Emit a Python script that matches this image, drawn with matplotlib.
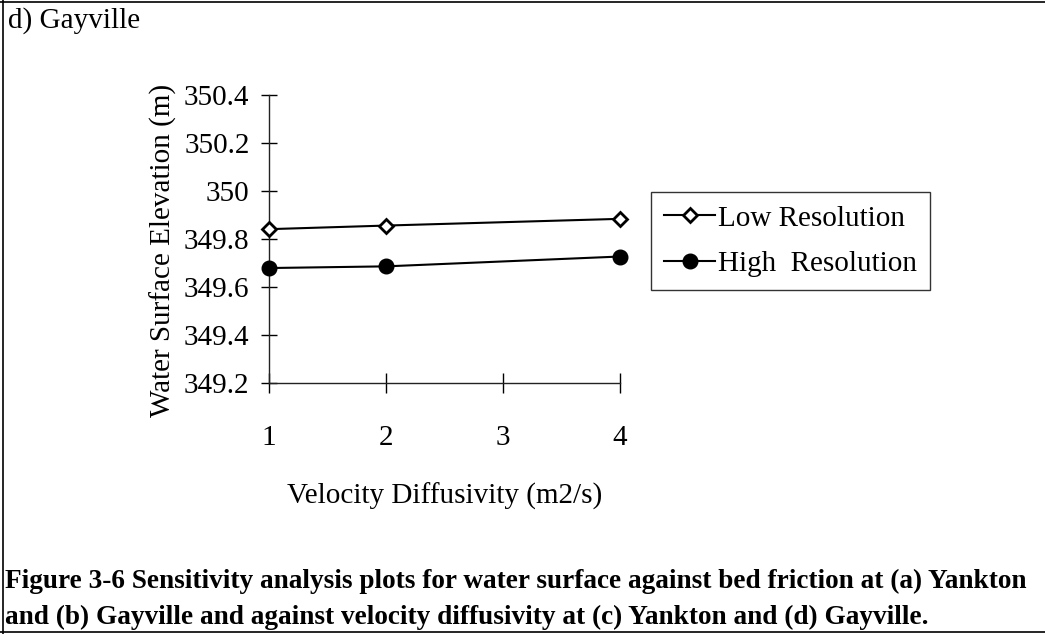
import matplotlib
matplotlib.use("Agg")
import matplotlib.pyplot as plt
from matplotlib.lines import Line2D

# Data
x_low = [1, 2, 4]
low_resolution = [349.841, 349.856, 349.884]
x_high = [1, 2, 4]
high_resolution = [349.679, 349.686, 349.727]
x_ticks = [1, 2, 3, 4]
y_ticks = [349.2, 349.4, 349.6, 349.8, 350.0, 350.2, 350.4]
y_tick_labels = ["349.2", "349.4", "349.6", "349.8", "350", "350.2", "350.4"]

W, H = 1045, 634
FS = 21
plt.rcParams['font.family'] = ['Liberation Serif', 'DejaVu Serif']

fig = plt.figure(figsize=(W / 100, H / 100), dpi=100)
fig.patch.set_facecolor('white')

# Axes placement (pixel coords)
left, right, top, bottom = 269, 620, 95, 383
ax = fig.add_axes([left / W, 1 - bottom / H, (right - left) / W, (bottom - top) / H])

ax.plot(x_low, low_resolution, color='black', lw=1.5, marker='D', ms=7.5,
        mfc='white', mec='black', mew=2.0, label='Low Resolution', clip_on=False, zorder=3)
ax.plot(x_high, high_resolution, color='black', lw=1.5, marker='o', ms=10.5,
        mfc='black', mec='black', label='High  Resolution', clip_on=False, zorder=3)

ax.set_xlim(1, 4)
ax.set_ylim(349.2, 350.4)
ax.set_xticks(x_ticks)
ax.set_yticks(y_ticks)
ax.set_yticklabels(y_tick_labels)
for s in ['top', 'right']:
    ax.spines[s].set_visible(False)
for s in ['left', 'bottom']:
    ax.spines[s].set_linewidth(1.0)
    ax.spines[s].set_color('#222222')
ax.tick_params(axis='y', direction='inout', length=12, width=1.0, labelsize=FS, pad=8)
ax.tick_params(axis='x', direction='inout', length=14, width=1.0, labelsize=FS, pad=23)
ax.set_facecolor('none')

ax.set_xlabel('Velocity Diffusivity (m2/s)', fontsize=FS, labelpad=23)
ax.set_ylabel('Water Surface Elevation (m)', fontsize=FS)
ax.yaxis.set_label_coords(-0.262, 0.46)

leg = fig.legend(loc='upper left', bbox_to_anchor=(651 / W, 1 - 192 / H),
                 fontsize=FS, frameon=True, fancybox=False, edgecolor='black',
                 handlelength=1.75, handletextpad=0.1, borderpad=0.45,
                 labelspacing=0.65, borderaxespad=0)
leg.get_frame().set_linewidth(1.0)

# Panel title
fig.text(8 / W, 1 - 21 / H, 'd) Gayville', fontsize=FS, ha='left', va='center')

# Caption
fig.text(5 / W, 1 - 581 / H,
         'Figure 3-6 Sensitivity analysis plots for water surface against bed friction at (a) Yankton',
         fontsize=19.6, fontweight='bold', ha='left', va='center')
fig.text(5 / W, 1 - 617 / H,
         'and (b) Gayville and against velocity diffusivity at (c) Yankton and (d) Gayville.',
         fontsize=19.6, fontweight='bold', ha='left', va='center')

# Border lines
fig.add_artist(Line2D([2.5 / W, 2.5 / W], [0, 1], color='black', lw=1.2, transform=fig.transFigure))
fig.add_artist(Line2D([0, 1], [1 - 2 / H, 1 - 2 / H], color='black', lw=1.2, transform=fig.transFigure))
fig.add_artist(Line2D([0, 1], [1 - 631.5 / H, 1 - 631.5 / H], color='black', lw=1.2, transform=fig.transFigure))

fig.savefig('out.png', dpi=100)
